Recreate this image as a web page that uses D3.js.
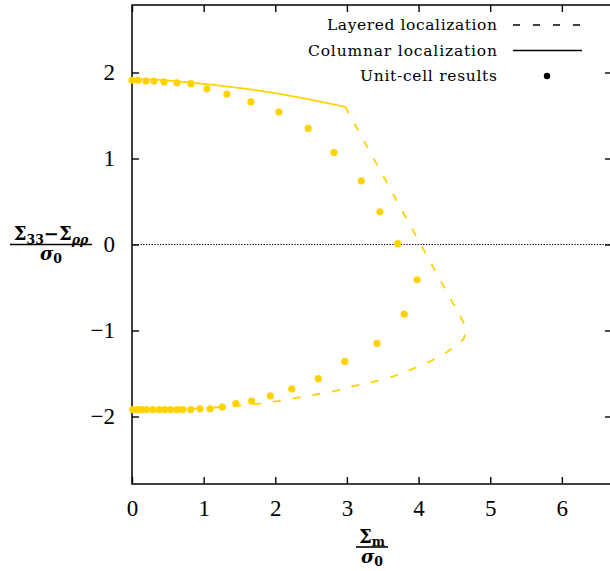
<!DOCTYPE html>
<html>
<head>
<meta charset="utf-8">
<script src="https://cdn.jsdelivr.net/npm/d3@7"></script>
<style>
  body { margin: 0; background: #fff; }
  svg { display: block; }
</style>
</head>
<body>
<svg id="chart" width="610" height="571"></svg>
<script>

////////////////////////// DATA //////////////////////////

const xTicks = [0, 1, 2, 3, 4, 5, 6]
const yTicks = [-2, -1, 0, 1, 2]

// columnar localization (solid)
const columnar = [
  [0, 1.925], [0.4, 1.915], [0.8, 1.885], [1.2, 1.85], [1.6, 1.81],
  [2.0, 1.76], [2.4, 1.70], [2.7, 1.65], [2.97, 1.60]
]

// layered localization (dashed)
const layered = [
  [2.97, 1.61], [4.67, -0.97], [4.63, -1.10], [4.40, -1.25], [4.16, -1.36],
  [3.91, -1.45], [3.63, -1.54], [3.35, -1.60], [3.08, -1.65], [2.80, -1.71],
  [2.53, -1.75], [2.25, -1.79], [1.97, -1.83], [1.69, -1.86], [1.40, -1.88],
  [1.0, -1.905], [0.5, -1.92], [0, -1.93]
]

// unit-cell results (dots)
const unitCell = [
  [0, 1.91], [0.084, 1.91], [0.195, 1.90], [0.307, 1.90], [0.446, 1.89],
  [0.628, 1.88], [0.823, 1.87], [1.046, 1.81], [1.325, 1.75], [1.66, 1.66],
  [2.05, 1.54], [2.46, 1.35], [2.82, 1.07], [3.20, 0.74], [3.46, 0.38],
  [3.71, 0.01], [3.98, -0.41], [3.80, -0.81], [3.42, -1.15], [2.97, -1.36],
  [2.60, -1.56], [2.23, -1.68], [1.93, -1.76], [1.67, -1.82], [1.45, -1.85],
  [1.26, -1.89], [1.09, -1.91], [0.95, -1.91], [0.82, -1.92], [0.71, -1.92],
  [0.63, -1.92], [0.54, -1.92], [0.46, -1.92], [0.38, -1.92], [0.29, -1.92],
  [0.20, -1.92], [0.13, -1.92], [0.07, -1.92], [0.01, -1.92]
]

const legendItems = [
  { label: 'Layered localization', type: 'dash' },
  { label: 'Columnar localization', type: 'line' },
  { label: 'Unit-cell results', type: 'dot' }
]
// measured widths of the legend labels in the reference
const legendWidths = [170, 189, 137]

////////////////////////// SETUP //////////////////////////

const color = '#FFD200'
const serif = '"Liberation Serif", "Times New Roman", "DejaVu Serif", serif'
const wideSerif = '"DejaVu Serif", "Liberation Serif", serif'
const plotLeft = 132, plotRight = 612, plotTop = 5, plotBottom = 484
const tickLen = 7

const svg = d3.select('#chart')

const xScale = d3.scaleLinear().domain([0, 6.7]).range([plotLeft, plotRight])
const yScale = d3.scaleLinear().domain([-2.785, 2.785]).range([plotBottom, plotTop])

const fmt = (d) => d < 0 ? '\u2212' + Math.abs(d) : `${d}`

////////////////////////// AXES //////////////////////////

// zero line
svg.append('line')
  .attr('x1', plotLeft).attr('x2', plotRight)
  .attr('y1', yScale(0)).attr('y2', yScale(0))
  .attr('stroke', '#000')
  .attr('stroke-width', 1.2)
  .attr('stroke-dasharray', '1.3,1.5')

// bottom axis
const xAxis = svg.append('g')
  .attr('transform', `translate(0,${plotBottom})`)
  .call(d3.axisBottom(xScale).tickValues(xTicks).tickSize(-tickLen).tickSizeOuter(0).tickPadding(16).tickFormat(fmt))

// top axis
const xAxisTop = svg.append('g')
  .attr('transform', `translate(0,${plotTop})`)
  .call(d3.axisTop(xScale).tickValues(xTicks).tickSize(-tickLen).tickSizeOuter(0).tickFormat(''))

// left axis
const yAxis = svg.append('g')
  .attr('transform', `translate(${plotLeft},0)`)
  .call(d3.axisLeft(yScale).tickValues(yTicks).tickSize(-tickLen).tickSizeOuter(0).tickPadding(17).tickFormat(fmt))

// right axis
const yAxisRight = svg.append('g')
  .attr('transform', `translate(${plotRight},0)`)
  .call(d3.axisRight(yScale).tickValues(yTicks).tickSize(-tickLen).tickSizeOuter(0).tickFormat(''))

;[xAxis, xAxisTop, yAxis, yAxisRight].forEach((g) => {
  g.select('.domain').remove()
  g.selectAll('.tick line').attr('stroke', '#000').attr('stroke-width', 1.4)
  g.selectAll('.tick text')
    .style('font-family', serif)
    .style('font-size', '23px')
    .attr('fill', '#000')
})
xAxis.selectAll('.tick text').attr('dy', '0.35em').attr('y', 24)

// frame
svg.append('rect')
  .attr('x', plotLeft).attr('y', plotTop)
  .attr('width', plotRight - plotLeft).attr('height', plotBottom - plotTop)
  .attr('fill', 'none')
  .attr('stroke', '#000')
  .attr('stroke-width', 1.5)

////////////////////////// SERIES //////////////////////////

const line = d3.line()
  .x((d) => xScale(d[0]))
  .y((d) => yScale(d[1]))

svg.append('path')
  .datum(columnar)
  .attr('d', line)
  .attr('fill', 'none')
  .attr('stroke', color)
  .attr('stroke-width', 1.7)

svg.append('path')
  .datum(layered)
  .attr('d', line)
  .attr('fill', 'none')
  .attr('stroke', color)
  .attr('stroke-width', 1.8)
  .attr('stroke-dasharray', '8,12')

svg.selectAll('.dot')
  .data(unitCell)
  .enter()
  .append('circle')
  .attr('class', 'dot')
  .attr('cx', (d) => xScale(d[0]))
  .attr('cy', (d) => yScale(d[1]))
  .attr('r', 3.6)
  .attr('fill', color)

////////////////////////// LEGEND //////////////////////////

const legendRowY = [25, 50.5, 76]
const legend = svg.selectAll('.legend-row')
  .data(legendItems)
  .enter()
  .append('g')
  .attr('class', 'legend-row')
  .attr('transform', (d, i) => `translate(0,${legendRowY[i]})`)

legend.append('text')
  .style('font-family', wideSerif)
  .style('font-size', '15.5px')
  .attr('x', 497)
  .attr('y', 5)
  .attr('text-anchor', 'end')
  .attr('textLength', (d, i) => legendWidths[i])
  .attr('lengthAdjust', 'spacing')
  .text((d) => d.label)

legend.filter((d) => d.type !== 'dot')
  .append('line')
  .attr('x1', 513).attr('x2', 582)
  .attr('y1', 0).attr('y2', 0)
  .attr('stroke', '#000')
  .attr('stroke-width', 1.5)
  .attr('stroke-dasharray', (d) => d.type === 'dash' ? '7,13' : null)

legend.filter((d) => d.type === 'dot')
  .append('circle')
  .attr('cx', 547).attr('cy', 0)
  .attr('r', 3.2)
  .attr('fill', '#000')

////////////////////////// AXIS TITLES //////////////////////////

const title = (x, y) => svg.append('text')
  .attr('x', x).attr('y', y)
  .attr('text-anchor', 'middle')
  .style('font-family', wideSerif)
  .style('font-weight', 'bold')
  .style('font-size', '18px')

// y title: (Σ33 − Σρρ) / σ0
const yNum = title(51, 240)
yNum.append('tspan').text('Σ')
yNum.append('tspan').style('font-size', '12.5px').attr('dy', 4).text('33')
yNum.append('tspan').attr('dy', -4).text('−Σ')
yNum.append('tspan').style('font-size', '12.5px').attr('dy', 4).style('font-style', 'italic').text('ρρ')

svg.append('line')
  .attr('x1', 10).attr('x2', 92)
  .attr('y1', 244.5).attr('y2', 244.5)
  .attr('stroke', '#000').attr('stroke-width', 1.6)

const yDen = title(51, 260)
yDen.append('tspan').style('font-style', 'italic').text('σ')
yDen.append('tspan').style('font-size', '12.5px').attr('dy', 3).text('0')

// x title: Σm / σ0
const xNum = title(372, 543)
xNum.append('tspan').text('Σ')
xNum.append('tspan').style('font-size', '12.5px').attr('dy', 3).text('m')

svg.append('line')
  .attr('x1', 356).attr('x2', 388)
  .attr('y1', 547).attr('y2', 547)
  .attr('stroke', '#000').attr('stroke-width', 1.6)

const xDen = title(372, 563)
xDen.append('tspan').style('font-style', 'italic').text('σ')
xDen.append('tspan').style('font-size', '12.5px').attr('dy', 3).text('0')

</script>
</body>
</html>
